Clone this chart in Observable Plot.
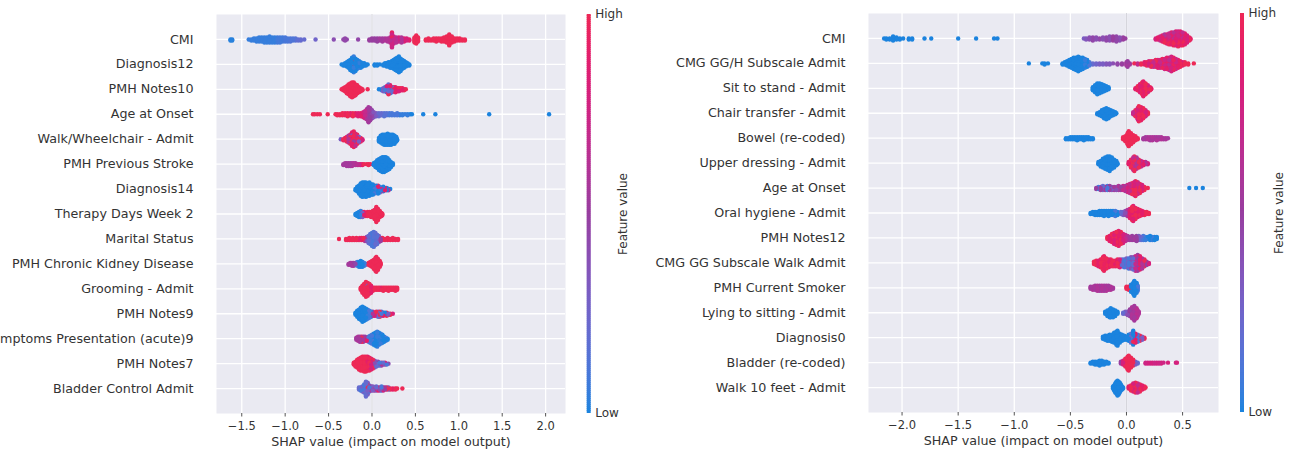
<!DOCTYPE html>
<html><head><meta charset="utf-8">
<script src="https://cdn.jsdelivr.net/npm/d3@7"></script>
<script src="https://cdn.jsdelivr.net/npm/@observablehq/plot@0.6"></script>
<style>
body{margin:0;background:#fff;}
#wrap{position:relative;width:1291px;height:452px;overflow:hidden;background:#fff;}
#wrap svg{position:absolute;top:0;overflow:visible;}
</style></head><body><div id="wrap"></div>
<script>
// ---------- labels & ticks ----------
const leftFeatures = ["CMI","Diagnosis12","PMH Notes10","Age at Onset","Walk/Wheelchair - Admit","PMH Previous Stroke","Diagnosis14","Therapy Days Week 2","Marital Status","PMH Chronic Kidney Disease","Grooming - Admit","PMH Notes9","Symptoms Presentation (acute)9","PMH Notes7","Bladder Control Admit"];
const rightFeatures = ["CMI","CMG GG/H Subscale Admit","Sit to stand - Admit","Chair transfer - Admit","Bowel (re-coded)","Upper dressing - Admit","Age at Onset","Oral hygiene - Admit","PMH Notes12","CMG GG Subscale Walk Admit","PMH Current Smoker","Lying to sitting - Admit","Diagnosis0","Bladder (re-coded)","Walk 10 feet - Admit"];
const leftTicks = [-1.5,-1.0,-0.5,0.0,0.5,1.0,1.5,2.0];
const rightTicks = [-2.0,-1.5,-1.0,-0.5,0.0,0.5];
const xLabel = "SHAP value (impact on model output)";
const cbarLabels = ["High","Low","Feature value"];

// ---------- point groups: [SHAP value, number of points, feature value 0..1] ----------
const left1 = [[-1.63,2,0.02],[-1.61,2,0.02],[-1.42,1,0.05],[-1.39,2,0.05],[-1.36,3,0.05],[-1.33,4,0.05],[-1.30,5,0.05],[-1.27,5,0.05],[-1.24,6,0.05],[-1.21,6,0.05],[-1.18,7,0.05],[-1.15,6,0.05],[-1.12,6,0.05],[-1.09,6,0.08],[-1.06,6,0.08],[-1.03,5,0.08],[-1.00,5,0.1],[-0.97,4,0.1],[-0.94,4,0.12],[-0.91,3,0.12],[-0.88,3,0.15],[-0.85,2,0.18],[-0.82,2,0.2],[-0.78,1,0.2],[-0.65,1,0.25],[-0.44,1,0.4],[-0.33,1,0.45],[-0.31,3,0.45],[-0.29,1,0.45],[-0.16,1,0.45],[-0.03,2,0.5],[0.00,3,0.5],[0.03,3,0.5],[0.06,4,0.5],[0.09,3,0.55],[0.12,4,0.55],[0.15,3,0.6],[0.18,4,0.6],[0.21,6,0.65],[0.23,10,0.75],[0.23,6,0.95],[0.25,8,0.7],[0.28,6,0.65],[0.31,5,0.8],[0.34,6,0.6],[0.37,4,0.85],[0.40,3,0.8],[0.43,2,0.9],[0.49,6,1],[0.51,9,1],[0.53,5,1],[0.62,2,1],[0.65,3,1],[0.68,2,1],[0.71,3,1],[0.74,4,1],[0.77,3,1],[0.80,4,1],[0.83,5,1],[0.86,7,1],[0.89,12,1],[0.92,7,1],[0.95,4,1],[0.98,3,1],[1.01,3,1],[1.04,2,1],[1.07,2,1]];
const left2 = [[-0.35,1,0],[-0.33,2,0],[-0.31,3,0],[-0.29,5,0],[-0.27,7,0],[-0.25,10,0],[-0.23,12,0],[-0.23,1,1],[-0.21,13,0.05],[-0.21,2,1],[-0.19,12,0],[-0.17,9,0],[-0.15,7,0.05],[-0.13,6,0],[-0.11,4,0],[-0.09,3,0],[-0.07,2,0],[-0.05,1,0],[0.03,2,0],[0.06,2,0],[0.09,1,0],[0.13,2,0],[0.15,3,0],[0.17,4,0],[0.19,5,0],[0.21,6,0],[0.23,7,0],[0.25,9,0],[0.27,11,0],[0.29,13,0],[0.31,15,0],[0.33,12,0],[0.35,9,0],[0.37,7,0],[0.39,5,0],[0.41,3,0],[0.43,2,0]];
const left3 = [[-0.35,1,1],[-0.33,3,1],[-0.31,5,1],[-0.29,8,1],[-0.27,11,1],[-0.25,14,1],[-0.23,16,1],[-0.21,15,1],[-0.19,12,1],[-0.17,9,1],[-0.15,6,1],[-0.13,4,1],[-0.11,2,1],[-0.05,1,1],[0.08,1,0],[0.11,2,0.1],[0.13,4,0.3],[0.15,5,0.1],[0.17,5,0.8],[0.17,2,0],[0.19,7,0.2],[0.19,4,1],[0.21,6,0.9],[0.21,3,0.1],[0.23,6,0.2],[0.25,5,1],[0.27,6,0.9],[0.29,4,1],[0.31,4,0.8],[0.33,3,1],[0.35,3,0.9],[0.37,2,1],[0.39,1,1]];
const left4 = [[-0.68,1,1],[-0.66,1,1],[-0.63,1,1],[-0.60,1,1],[-0.51,1,1],[-0.42,1,1],[-0.40,2,1],[-0.37,2,1],[-0.34,3,1],[-0.31,3,0.95],[-0.28,4,1],[-0.25,3,0.9],[-0.22,4,1],[-0.19,3,0.9],[-0.16,4,0.85],[-0.13,4,0.9],[-0.10,6,0.8],[-0.08,8,0.7],[-0.06,11,0.6],[-0.04,16,0.55],[-0.02,13,0.5],[0.00,9,0.45],[0.02,6,0.35],[0.05,4,0.3],[0.08,4,0.2],[0.11,3,0.2],[0.14,4,0.15],[0.17,3,0.15],[0.20,3,0.1],[0.23,3,0.1],[0.26,2,0.1],[0.29,3,0.1],[0.32,2,0.05],[0.35,2,0.05],[0.38,1,0.05],[0.41,2,0.05],[0.44,1,0],[0.46,1,0],[0.59,1,0],[0.73,1,0],[1.35,1,0],[2.04,1,0]];
const left5 = [[-0.36,1,0.3],[-0.33,2,1],[-0.31,3,0.9],[-0.29,5,1],[-0.27,7,0.6],[-0.25,9,1],[-0.23,10,0.9],[-0.23,3,0.2],[-0.21,13,1],[-0.21,2,0.5],[-0.19,12,0.7],[-0.17,9,1],[-0.15,6,0.3],[-0.13,4,1],[-0.11,2,0.8],[0.08,4,0],[0.10,7,0],[0.12,9,0],[0.14,10,0],[0.16,10,0],[0.18,11,0],[0.20,10,0],[0.22,10,0],[0.24,9,0],[0.26,8,0],[0.28,5,0],[0.29,2,0]];
const left6 = [[-0.33,2,0.55],[-0.31,3,0.55],[-0.29,4,0.55],[-0.27,4,0.55],[-0.25,4,0.55],[-0.23,4,0.6],[-0.21,3,0.6],[-0.19,3,0.6],[-0.17,2,0.65],[-0.15,2,0.7],[-0.13,2,0.8],[-0.11,2,0.9],[-0.09,1,1],[-0.06,1,1],[-0.04,2,1],[-0.02,1,1],[0.02,3,0],[0.04,6,0],[0.06,9,0],[0.08,12,0],[0.10,14,0],[0.12,16,0],[0.14,16,0],[0.16,15,0],[0.18,13,0],[0.20,10,0],[0.22,6,0],[0.24,3,0]];
const left7 = [[-0.19,2,0],[-0.17,5,0],[-0.15,8,0],[-0.13,12,0],[-0.11,14,0],[-0.09,13,0],[-0.07,14,0],[-0.05,12,0],[-0.03,13,0],[-0.01,10,0],[0.01,8,0],[0.01,2,1],[0.03,6,0.1],[0.03,2,1],[0.05,7,0],[0.07,5,0],[0.07,3,0.9],[0.09,6,0.05],[0.11,4,0.7],[0.13,5,0],[0.15,3,0.9],[0.17,3,0],[0.19,2,0.6],[0.21,1,0]];
const left8 = [[-0.19,2,0],[-0.17,4,0],[-0.15,6,0],[-0.13,7,0.05],[-0.11,6,0.3],[-0.09,5,0.9],[-0.07,4,1],[-0.05,5,1],[-0.03,5,1],[-0.01,6,1],[0.01,7,1],[0.03,10,1],[0.05,16,1],[0.07,12,1],[0.09,7,1],[0.11,4,1],[0.12,2,1]];
const left9 = [[-0.38,1,1],[-0.30,2,1],[-0.28,2,1],[-0.26,3,1],[-0.24,2,1],[-0.22,3,1],[-0.20,2,1],[-0.18,3,1],[-0.16,2,0.9],[-0.14,3,1],[-0.12,3,0.9],[-0.10,3,1],[-0.08,4,0.6],[-0.06,5,0.4],[-0.04,8,0.2],[-0.02,11,0.15],[0.00,14,0.1],[0.02,16,0.15],[0.04,13,0.2],[0.06,10,0.15],[0.08,7,0.3],[0.10,4,0.5],[0.12,3,1],[0.15,2,1],[0.18,3,1],[0.21,2,1],[0.24,3,1],[0.27,2,1],[0.30,2,1]];
const left10 = [[-0.27,2,0.55],[-0.25,3,0.55],[-0.23,4,0.55],[-0.21,4,0.5],[-0.19,3,0.45],[-0.17,5,0.1],[-0.15,6,0],[-0.13,7,0],[-0.11,6,0],[-0.09,4,0.05],[-0.07,2,0.1],[-0.04,3,1],[-0.02,5,1],[0.00,7,1],[0.02,10,1],[0.04,14,1],[0.05,16,1],[0.07,12,1],[0.09,7,1],[0.10,3,1]];
const left11 = [[-0.13,3,1],[-0.11,8,1],[-0.09,12,1],[-0.07,13,1],[-0.07,3,0.1],[-0.05,12,1],[-0.05,2,0.2],[-0.03,11,1],[-0.01,8,0.9],[0.01,4,1],[0.03,3,1],[0.05,3,1],[0.07,3,1],[0.09,3,0.9],[0.11,3,1],[0.13,4,1],[0.15,3,1],[0.17,3,1],[0.19,4,1],[0.21,3,1],[0.23,3,1],[0.25,3,1],[0.27,4,1],[0.29,3,1]];
const left12 = [[-0.19,3,0],[-0.17,7,0],[-0.15,10,0],[-0.13,13,0],[-0.11,16,0],[-0.09,14,0],[-0.07,12,0],[-0.05,10,0.05],[-0.03,8,0.1],[-0.01,6,0],[0.01,5,0.6],[0.03,4,0.8],[0.05,5,1],[0.07,6,0.2],[0.09,6,1],[0.11,5,0.1],[0.13,4,0.9],[0.15,3,0],[0.17,4,1],[0.19,2,0.3],[0.21,2,1],[0.24,1,0.8]];
const left13 = [[-0.18,3,0.55],[-0.16,5,0.6],[-0.14,6,0.55],[-0.12,6,1],[-0.10,6,0.55],[-0.08,5,0.5],[-0.06,4,0.9],[-0.04,6,0.1],[-0.02,8,0.05],[0.00,10,0.1],[0.02,12,0],[0.04,14,0],[0.06,16,0.05],[0.08,13,0],[0.10,11,0.05],[0.12,9,0],[0.14,6,0],[0.16,4,0.1],[0.18,2,0]];
const left14 = [[-0.21,3,1],[-0.19,6,1],[-0.17,9,1],[-0.15,12,1],[-0.13,14,1],[-0.11,15,1],[-0.09,16,1],[-0.07,16,1],[-0.05,15,0.9],[-0.03,14,1],[-0.01,12,0.8],[0.01,10,1],[0.03,8,0.4],[0.05,6,0.2],[0.07,5,0.5],[0.09,4,0.1],[0.11,4,0.6],[0.13,3,0.2],[0.15,3,0.8],[0.17,2,0.1],[0.19,1,0.4]];
const left15 = [[-0.15,3,0.2],[-0.13,4,0.1],[-0.11,6,0.3],[-0.09,9,0.1],[-0.07,16,0.2],[-0.05,10,0.3],[-0.05,3,1],[-0.03,7,0.1],[-0.01,5,0.6],[0.01,5,0.3],[0.03,4,0.7],[0.05,5,0.2],[0.07,4,0.9],[0.09,4,0.4],[0.11,5,0.1],[0.13,4,0.8],[0.15,3,0.5],[0.17,3,1],[0.19,3,0.2],[0.21,2,1],[0.24,2,0.9],[0.27,2,1],[0.29,1,1],[0.35,1,1]];

const right1 = [[-2.16,1,0],[-2.14,2,0],[-2.11,2,0],[-2.08,5,0],[-2.05,3,0],[-2.02,2,0],[-1.99,1,0],[-1.94,2,0],[-1.91,2,0],[-1.80,1,0],[-1.74,1,0],[-1.50,1,0],[-1.34,1,0],[-1.18,1,0],[-1.15,1,0],[-0.38,1,0.3],[-0.36,2,0.35],[-0.33,3,0.4],[-0.30,4,0.45],[-0.27,3,0.4],[-0.24,2,0.45],[-0.21,3,0.4],[-0.18,4,0.45],[-0.15,5,0.4],[-0.12,5,0.5],[-0.09,6,0.45],[-0.06,4,0.4],[-0.03,3,0.5],[-0.01,1,0.5],[0.26,2,0.8],[0.28,3,0.9],[0.30,5,0.7],[0.32,7,0.9],[0.34,5,0.6],[0.34,4,1],[0.36,10,0.85],[0.38,6,0.7],[0.38,6,1],[0.40,13,0.9],[0.42,7,0.65],[0.42,7,1],[0.44,15,0.85],[0.46,8,0.75],[0.46,8,1],[0.48,15,0.9],[0.50,7,0.7],[0.50,7,1],[0.52,12,0.9],[0.54,8,0.8],[0.56,4,1],[0.57,2,0.9]];
const right2 = [[-0.87,1,0],[-0.75,1,0],[-0.73,2,0],[-0.70,1,0],[-0.57,2,0],[-0.55,3,0],[-0.53,5,0],[-0.51,7,0],[-0.49,9,0],[-0.47,11,0],[-0.45,12,0],[-0.43,14,0],[-0.41,12,0],[-0.39,11,0],[-0.37,9,0.05],[-0.35,7,0],[-0.33,4,0.1],[-0.30,2,0.2],[-0.27,2,0.25],[-0.24,2,0.3],[-0.21,2,0.3],[-0.18,2,0.35],[-0.15,2,0.35],[-0.12,1,0.4],[-0.08,2,0.45],[-0.04,2,0.5],[0.00,4,0.55],[0.01,6,0.5],[0.03,2,0.55],[0.07,1,1],[0.10,2,0.7],[0.13,2,1],[0.16,3,0.9],[0.18,4,1],[0.20,5,0.8],[0.22,6,1],[0.24,6,0.7],[0.26,7,1],[0.28,8,0.85],[0.30,8,0.7],[0.32,9,0.95],[0.34,10,0.75],[0.36,11,0.9],[0.38,12,0.65],[0.40,14,0.8],[0.42,12,0.95],[0.44,10,0.75],[0.46,8,0.9],[0.48,6,1],[0.50,4,0.85],[0.52,3,1],[0.55,2,1],[0.60,1,1]];
const right3 = [[-0.30,4,0],[-0.28,8,0],[-0.26,12,0],[-0.24,11,0],[-0.22,9,0],[-0.20,7,0],[-0.18,5,0],[-0.16,3,0],[0.08,2,0.9],[0.10,5,1],[0.12,9,0.85],[0.14,13,1],[0.15,16,0.9],[0.17,12,1],[0.19,8,0.8],[0.21,4,1],[0.22,2,0.9]];
const right4 = [[-0.26,2,0],[-0.24,4,0],[-0.22,7,0],[-0.20,10,0],[-0.18,12,0],[-0.16,10,0],[-0.14,7,0],[-0.12,5,0],[-0.10,3,0],[-0.09,1,0],[0.06,3,0.7],[0.08,7,1],[0.10,12,0.8],[0.11,16,1],[0.13,14,0.9],[0.15,11,1],[0.17,7,0.8],[0.19,3,1]];
const right5 = [[-0.54,2,0],[-0.52,2,0],[-0.50,3,0],[-0.48,3,0],[-0.46,3,0],[-0.44,4,0],[-0.42,3,0],[-0.40,3,0],[-0.38,4,0],[-0.36,3,0],[-0.34,3,0],[-0.32,2,0],[-0.30,2,0],[-0.03,3,1],[-0.01,6,1],[0.01,12,1],[0.02,16,1],[0.04,12,1],[0.06,8,1],[0.08,5,1],[0.10,2,1],[0.15,2,0.55],[0.17,3,0.55],[0.19,3,0.6],[0.21,4,0.55],[0.23,4,0.6],[0.25,3,0.55],[0.27,4,0.6],[0.29,3,0.55],[0.31,3,0.6],[0.33,2,0.55],[0.35,2,0.6],[0.37,1,0.55]];
const right6 = [[-0.25,3,0],[-0.23,6,0],[-0.21,9,0],[-0.19,11,0],[-0.17,13,0],[-0.15,14,0],[-0.13,11,0],[-0.11,8,0],[-0.09,5,0],[-0.08,2,0],[0.02,3,0.9],[0.04,8,1],[0.06,12,0.7],[0.07,14,1],[0.09,11,0.6],[0.11,8,1],[0.13,6,0.7],[0.15,4,0.9],[0.17,3,0.6],[0.19,2,0.8]];
const right7 = [[-0.27,2,0.5],[-0.25,3,0.1],[-0.23,4,0.5],[-0.21,5,0.2],[-0.19,4,0.55],[-0.17,5,0.1],[-0.15,5,0.5],[-0.13,4,0.3],[-0.11,4,0.55],[-0.09,4,0.4],[-0.07,5,0.6],[-0.05,4,0.5],[-0.03,5,0.7],[-0.01,6,0.6],[0.01,8,0.8],[0.03,10,0.7],[0.05,12,1],[0.07,14,0.8],[0.08,16,1],[0.10,13,0.75],[0.12,10,1],[0.14,7,0.8],[0.16,4,1],[0.19,1,1],[0.56,1,0],[0.62,1,0],[0.68,1,0]];
const right8 = [[-0.32,2,0],[-0.30,3,0],[-0.28,4,0],[-0.26,4,0],[-0.24,5,0],[-0.22,5,0],[-0.20,6,0],[-0.18,5,0],[-0.16,6,0],[-0.14,5,0],[-0.12,5,0],[-0.10,6,0.1],[-0.08,4,0],[-0.05,3,0.2],[-0.03,4,0.3],[-0.01,5,0.4],[0.01,7,0.6],[0.03,10,0.9],[0.05,14,1],[0.06,16,0.85],[0.08,12,1],[0.10,9,0.9],[0.12,7,1],[0.14,5,0.9],[0.16,4,1],[0.18,3,1],[0.20,2,1]];
const right9 = [[-0.17,3,1],[-0.15,6,0.9],[-0.13,9,1],[-0.11,12,0.85],[-0.09,14,1],[-0.07,16,0.9],[-0.05,13,1],[-0.03,10,0.8],[-0.01,7,0.7],[0.01,5,0.6],[0.03,4,0.55],[0.05,5,0.5],[0.07,4,0.55],[0.09,6,0.5],[0.11,5,0.3],[0.13,4,0.2],[0.15,5,0.1],[0.17,4,0.05],[0.19,3,0],[0.21,5,0],[0.23,4,0.05],[0.25,4,0],[0.27,3,0]];
const right10 = [[-0.29,3,1],[-0.27,5,1],[-0.25,6,0.9],[-0.23,8,1],[-0.21,12,1],[-0.20,14,0.95],[-0.18,10,1],[-0.16,8,0.9],[-0.14,7,1],[-0.12,6,1],[-0.10,6,0.9],[-0.08,7,1],[-0.06,8,0.8],[-0.04,7,0.2],[-0.02,8,0.1],[0.00,9,0.3],[0.02,10,0.1],[0.04,11,0.4],[0.06,12,0.2],[0.08,14,0.7],[0.10,15,0.5],[0.12,13,0.9],[0.14,10,0.6],[0.16,7,1],[0.18,4,0.5],[0.20,2,0.8]];
const right11 = [[-0.32,3,0.55],[-0.30,4,0.6],[-0.28,5,0.55],[-0.26,6,0.6],[-0.24,6,0.55],[-0.22,6,0.6],[-0.20,6,0.55],[-0.18,6,0.6],[-0.16,5,0.55],[-0.14,4,0.6],[-0.12,2,0.55],[0.00,3,1],[0.02,4,1],[0.04,8,0],[0.06,12,0],[0.07,16,0],[0.09,11,0],[0.10,6,0.1]];
const right12 = [[-0.19,3,0],[-0.17,6,0],[-0.15,8,0],[-0.14,9,0],[-0.12,8,0],[-0.10,6,0],[-0.08,3,0],[-0.03,2,0.2],[-0.01,3,0.3],[0.01,4,0.4],[0.03,7,0.5],[0.05,11,0.6],[0.07,14,0.55],[0.09,10,0.65],[0.10,6,0.6],[0.11,3,0.6]];
const right13 = [[-0.21,3,0],[-0.19,5,0],[-0.17,6,0],[-0.15,7,0],[-0.13,8,0],[-0.11,11,0],[-0.09,14,0],[-0.08,16,0],[-0.06,10,0],[-0.04,7,0],[-0.02,5,0],[0.00,4,0],[0.02,7,0],[0.04,10,0.2],[0.06,12,0],[0.06,3,1],[0.08,10,0.9],[0.10,8,0.1],[0.12,6,1],[0.14,4,0.3],[0.16,2,1]];
const right14 = [[-0.32,2,0],[-0.30,3,0],[-0.28,4,0],[-0.26,4,0],[-0.24,6,0],[-0.22,5,0],[-0.20,4,0],[-0.18,3,0],[-0.16,2,0],[-0.05,3,0.5],[-0.03,5,0.8],[-0.01,9,1],[0.01,14,1],[0.02,16,1],[0.04,11,1],[0.06,7,1],[0.08,4,0.3],[0.10,2,0.2],[0.17,2,0.75],[0.19,2,0.8],[0.21,2,0.75],[0.23,2,0.8],[0.25,2,0.75],[0.27,2,0.8],[0.29,2,0.75],[0.31,2,0.8],[0.33,1,0.75],[0.37,1,0.8],[0.44,1,0.75],[0.45,1,0.8]];
const right15 = [[-0.12,3,0],[-0.11,6,0],[-0.10,10,0],[-0.09,13,0],[-0.08,16,0],[-0.07,14,0],[-0.06,11,0],[-0.05,7,0],[-0.04,4,0],[-0.03,2,0],[0.02,3,0.9],[0.04,6,1],[0.06,9,0.8],[0.08,11,1],[0.10,10,0.7],[0.12,8,1],[0.14,5,0.9],[0.16,3,1],[0.17,1,1]];

const leftRows = [left1,left2,left3,left4,left5,left6,left7,left8,left9,left10,left11,left12,left13,left14,left15];
const rightRows = [right1,right2,right3,right4,right5,right6,right7,right8,right9,right10,right11,right12,right13,right14,right15];

// ---------- red/blue colormap in LCh (muted to match the picture) ----------
const cmap = d3.piecewise(d3.interpolateHcl, [d3.hcl(266.9, 55, 53), d3.hcl(323.6, 60, 42), d3.hcl(380.3, 78, 53)]);
const FONT = "DejaVu Sans, sans-serif";
const INK = "#333333";

// beeswarm layout like shap (stack points sharing a bin alternately above/below the row)
function swarm(rows) {
  const out = [];
  rows.forEach((entries, row) => {
    const pts = [];
    entries.forEach(([x, n, c], e) => { for (let k = 0; k < n; k++) pts.push({row, x, c, key: (k + 0.5) / n, e}); });
    const groups = d3.group(pts, p => Math.round(p.x * 1000));
    let maxUp = 0;
    for (const g of groups.values()) {
      g.sort((a, b) => a.key - b.key || a.e - b.e);
      g.forEach((p, layer) => { p.o = Math.ceil(layer / 2) * ((layer % 2) * 2 - 1); maxUp = Math.max(maxUp, p.o); });
    }
    const s = 0.9 * 0.4 / (maxUp + 1);
    pts.forEach(p => { p.y = row + p.o * s; out.push(p); });
  });
  out.forEach((p, i) => p.z = (i * 0.6180339887) % 1);
  out.sort((a, b) => a.z - b.z);
  return out;
}

function panel(features, rows, ticks, o) {
  const pts = swarm(rows);
  const n = features.length;
  return Plot.plot({
    width: o.width, height: 452,
    marginLeft: o.ml, marginRight: o.mr, marginTop: o.top, marginBottom: 452 - o.bottom,
    style: {fontFamily: FONT, color: INK, background: "transparent", overflow: "visible"},
    x: {domain: o.xd},
    y: {domain: [-1, n], reverse: true},
    color: {domain: [0, 1], interpolate: cmap},
    marks: [
      Plot.frame({fill: "#eaeaf2", stroke: "none"}),
      Plot.gridX(ticks, {stroke: "white", strokeOpacity: 1, strokeWidth: 1.3}),
      Plot.gridY(d3.range(n), {stroke: "white", strokeOpacity: 1, strokeWidth: 1.3}),
      Plot.ruleX([0], {stroke: "#d4d4dc", strokeWidth: 1}),
      Plot.dot(pts, {x: "x", y: "y", fill: "c", r: 2.2}),
      Plot.axisX(ticks, {tickFormat: d3.format(".1f"), tickSize: 3.5, tickPadding: 5, fontSize: 11.5, label: null, stroke: "#555"}),
      Plot.axisY(d3.range(n), {tickFormat: i => features[i], tickSize: 0, tickPadding: 23, fontSize: 12.7, label: null}),
      Plot.text([xLabel], {frameAnchor: "bottom", lineAnchor: "middle", dy: 28.5, fontSize: 12.7, fill: INK})
    ]
  });
}

function colorbar(barLeft, top, bottom, labelDx) {
  const steps = d3.range(0, 1, 0.005);
  const W = 70;
  return Plot.plot({
    width: W, height: 452,
    marginLeft: barLeft, marginRight: W - barLeft - 4, marginTop: top, marginBottom: 452 - bottom,
    style: {fontFamily: FONT, color: INK, background: "transparent", overflow: "visible"},
    x: {domain: [0, 1], axis: null},
    y: {domain: [0, 1], axis: null},
    color: {domain: [0, 1], interpolate: cmap},
    marks: [
      Plot.rect(steps, {x1: 0, x2: 1, y1: d => d, y2: d => Math.min(1, d + 0.007), fill: d => d, inset: 0}),
      Plot.text([cbarLabels[0]], {x: 1, y: 1, dx: 4, textAnchor: "start", fontSize: 12, fill: INK}),
      Plot.text([cbarLabels[1]], {x: 1, y: 0, dx: 4, textAnchor: "start", fontSize: 12, fill: INK}),
      Plot.text([cbarLabels[2]], {x: 1, y: 0.5, dx: labelDx, rotate: -90, fontSize: 12, fill: INK})
    ]
  });
}

const wrap = document.getElementById("wrap");
function place(svg, left) { svg.style.left = left + "px"; wrap.appendChild(svg); }

place(panel(leftFeatures, leftRows, leftTicks, {width: 575, ml: 216, mr: 10, top: 14, bottom: 413, xd: [-1.791, 2.229]}), 0);
place(colorbar(6.7, 14, 413, 32), 580);
place(panel(rightFeatures, rightRows, rightTicks, {width: 588, ml: 228, mr: 10, top: 13, bottom: 412, xd: [-2.299, 0.820]}), 640);
place(colorbar(6, 13, 412, 35), 1234);
</script>
</body></html>
